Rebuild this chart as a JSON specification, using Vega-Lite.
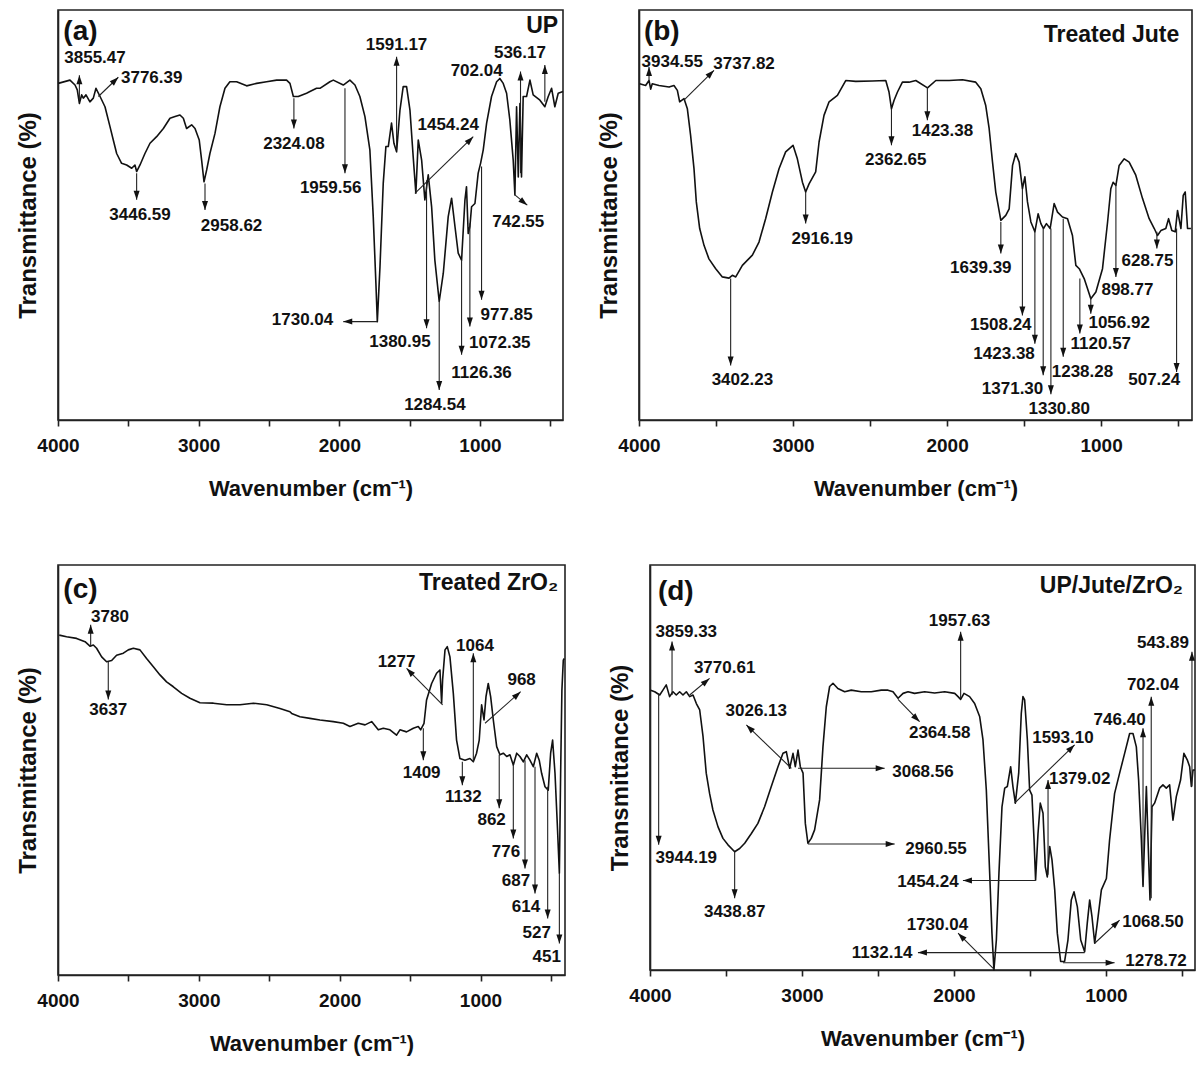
{
"$schema": "https://vega.github.io/schema/vega-lite/v6.json",
"padding": {"left": 15, "top": 9, "right": 5, "bottom": 5},
"background": "white",
"config": {
 "font": "Liberation Sans",
 "text": {"font": "Liberation Sans"},
 "view": {"stroke": "#222", "strokeWidth": 1.6},
 "axis": {"grid": false, "domainColor": "#222", "domainWidth": 1.6, "tickColor": "#222", "tickWidth": 1.6, "labelFont": "Liberation Sans", "labelFontWeight": "bold", "labelFontSize": 19, "labelColor": "#111", "titleFont": "Liberation Sans", "titleFontWeight": "bold", "titleColor": "#111", "labelFlush": false, "labelOverlap": false},
 "axisX": {"tickSize": 6, "labelPadding": 10, "titleFontSize": 22, "titlePadding": 23},
 "axisY": {"titleFontSize": 24, "titlePadding": 18}
},
"datasets": {
 "specA": [{"w":3998,"t":82.1},{"w":3915,"t":82.9},{"w":3879,"t":81.7},{"w":3863,"t":80.5},{"w":3848,"t":77.2},{"w":3832,"t":79.3},{"w":3820,"t":78.5},{"w":3801,"t":79.3},{"w":3773,"t":77.6},{"w":3749,"t":78.5},{"w":3730,"t":80.9},{"w":3701,"t":78.9},{"w":3666,"t":76.4},{"w":3630,"t":71.5},{"w":3607,"t":68.3},{"w":3583,"t":65.0},{"w":3548,"t":62.6},{"w":3512,"t":62.2},{"w":3476,"t":61.4},{"w":3453,"t":62.2},{"w":3441,"t":60.6},{"w":3417,"t":62.2},{"w":3382,"t":65.0},{"w":3346,"t":67.5},{"w":3299,"t":69.1},{"w":3251,"t":71.1},{"w":3204,"t":73.6},{"w":3168,"t":74.0},{"w":3133,"t":74.4},{"w":3109,"t":73.6},{"w":3086,"t":71.1},{"w":3050,"t":72.0},{"w":3026,"t":71.1},{"w":2996,"t":68.3},{"w":2979,"t":63.4},{"w":2962,"t":58.1},{"w":2943,"t":61.0},{"w":2920,"t":65.0},{"w":2884,"t":69.9},{"w":2849,"t":76.4},{"w":2813,"t":80.9},{"w":2778,"t":82.5},{"w":2730,"t":82.5},{"w":2659,"t":81.5},{"w":2588,"t":82.1},{"w":2517,"t":82.5},{"w":2446,"t":82.9},{"w":2375,"t":82.9},{"w":2351,"t":82.1},{"w":2327,"t":78.9},{"w":2292,"t":78.9},{"w":2233,"t":79.7},{"w":2209,"t":80.1},{"w":2162,"t":80.9},{"w":2138,"t":80.9},{"w":2067,"t":82.5},{"w":2043,"t":82.9},{"w":1972,"t":81.7},{"w":1925,"t":82.9},{"w":1889,"t":81.7},{"w":1854,"t":78.9},{"w":1818,"t":74.0},{"w":1783,"t":65.9},{"w":1759,"t":49.6},{"w":1740,"t":33.3},{"w":1730,"t":24.0},{"w":1711,"t":37.4},{"w":1688,"t":57.7},{"w":1669,"t":66.7},{"w":1652,"t":66.7},{"w":1629,"t":72.4},{"w":1612,"t":67.5},{"w":1593,"t":65.4},{"w":1569,"t":75.6},{"w":1546,"t":81.3},{"w":1522,"t":81.3},{"w":1498,"t":75.6},{"w":1475,"t":64.2},{"w":1456,"t":55.3},{"w":1439,"t":68.3},{"w":1415,"t":63.4},{"w":1392,"t":53.7},{"w":1368,"t":59.8},{"w":1344,"t":52.0},{"w":1321,"t":39.0},{"w":1290,"t":28.9},{"w":1261,"t":35.8},{"w":1226,"t":49.6},{"w":1202,"t":54.1},{"w":1178,"t":47.2},{"w":1155,"t":40.7},{"w":1131,"t":39.0},{"w":1107,"t":53.7},{"w":1096,"t":56.9},{"w":1084,"t":45.5},{"w":1072,"t":47.2},{"w":1060,"t":52.0},{"w":1036,"t":52.8},{"w":1013,"t":60.2},{"w":996,"t":62.6},{"w":977,"t":65.9},{"w":953,"t":72.4},{"w":918,"t":78.9},{"w":882,"t":82.5},{"w":859,"t":83.3},{"w":835,"t":82.1},{"w":811,"t":79.7},{"w":788,"t":73.2},{"w":764,"t":63.4},{"w":752,"t":54.9},{"w":740,"t":76.4},{"w":728,"t":59.3},{"w":716,"t":77.2},{"w":705,"t":59.3},{"w":693,"t":78.9},{"w":669,"t":78.9},{"w":645,"t":82.9},{"w":622,"t":79.3},{"w":574,"t":78.0},{"w":539,"t":76.4},{"w":515,"t":78.9},{"w":491,"t":80.9},{"w":468,"t":76.4},{"w":444,"t":79.7},{"w":410,"t":80.1}],
 "specB": [{"w":3996,"t":82.0},{"w":3957,"t":81.6},{"w":3935,"t":82.8},{"w":3924,"t":80.7},{"w":3914,"t":82.0},{"w":3870,"t":81.6},{"w":3805,"t":81.2},{"w":3773,"t":81.6},{"w":3751,"t":80.4},{"w":3736,"t":77.6},{"w":3708,"t":78.4},{"w":3686,"t":75.9},{"w":3665,"t":69.4},{"w":3643,"t":61.3},{"w":3628,"t":53.2},{"w":3606,"t":46.7},{"w":3578,"t":42.6},{"w":3546,"t":39.3},{"w":3502,"t":36.9},{"w":3459,"t":34.9},{"w":3416,"t":34.6},{"w":3394,"t":35.3},{"w":3372,"t":34.9},{"w":3329,"t":37.7},{"w":3264,"t":40.2},{"w":3221,"t":43.4},{"w":3178,"t":49.1},{"w":3134,"t":55.6},{"w":3091,"t":61.3},{"w":3048,"t":65.4},{"w":3000,"t":67.0},{"w":2972,"t":63.7},{"w":2939,"t":58.0},{"w":2918,"t":55.6},{"w":2896,"t":57.6},{"w":2853,"t":60.5},{"w":2831,"t":67.8},{"w":2799,"t":74.3},{"w":2766,"t":77.6},{"w":2712,"t":79.2},{"w":2658,"t":82.8},{"w":2593,"t":82.6},{"w":2485,"t":82.7},{"w":2398,"t":82.8},{"w":2377,"t":80.0},{"w":2361,"t":75.9},{"w":2344,"t":78.0},{"w":2322,"t":80.0},{"w":2290,"t":82.4},{"w":2247,"t":82.4},{"w":2203,"t":82.8},{"w":2127,"t":81.0},{"w":2073,"t":82.8},{"w":1987,"t":82.8},{"w":1900,"t":83.0},{"w":1814,"t":82.4},{"w":1781,"t":80.8},{"w":1749,"t":76.7},{"w":1727,"t":71.1},{"w":1705,"t":62.9},{"w":1684,"t":55.6},{"w":1651,"t":48.7},{"w":1619,"t":49.9},{"w":1597,"t":51.5},{"w":1575,"t":62.1},{"w":1554,"t":65.0},{"w":1532,"t":62.9},{"w":1511,"t":56.4},{"w":1495,"t":59.3},{"w":1478,"t":53.2},{"w":1456,"t":48.3},{"w":1430,"t":45.9},{"w":1409,"t":50.3},{"w":1391,"t":47.9},{"w":1374,"t":46.7},{"w":1355,"t":47.9},{"w":1331,"t":46.7},{"w":1305,"t":52.8},{"w":1283,"t":50.7},{"w":1251,"t":49.5},{"w":1218,"t":49.1},{"w":1186,"t":45.0},{"w":1164,"t":37.7},{"w":1142,"t":36.9},{"w":1110,"t":34.5},{"w":1088,"t":32.0},{"w":1067,"t":29.6},{"w":1034,"t":31.2},{"w":991,"t":36.9},{"w":958,"t":48.3},{"w":937,"t":56.4},{"w":922,"t":58.0},{"w":904,"t":57.2},{"w":883,"t":62.1},{"w":850,"t":63.7},{"w":818,"t":62.9},{"w":775,"t":59.7},{"w":731,"t":54.0},{"w":688,"t":49.1},{"w":655,"t":46.7},{"w":634,"t":45.0},{"w":612,"t":46.2},{"w":580,"t":46.7},{"w":562,"t":49.1},{"w":541,"t":46.2},{"w":519,"t":45.9},{"w":504,"t":51.1},{"w":482,"t":46.7},{"w":467,"t":54.8},{"w":454,"t":55.6},{"w":439,"t":46.7},{"w":417,"t":46.7}],
 "specC": [{"w":3991,"t":82.9},{"w":3939,"t":82.5},{"w":3868,"t":82.1},{"w":3808,"t":81.3},{"w":3773,"t":80.2},{"w":3749,"t":80.5},{"w":3726,"t":79.7},{"w":3690,"t":77.6},{"w":3655,"t":76.4},{"w":3619,"t":76.7},{"w":3584,"t":78.0},{"w":3536,"t":78.5},{"w":3501,"t":79.3},{"w":3465,"t":79.7},{"w":3418,"t":79.3},{"w":3371,"t":77.2},{"w":3323,"t":75.2},{"w":3276,"t":73.2},{"w":3229,"t":71.5},{"w":3181,"t":70.3},{"w":3122,"t":68.7},{"w":3063,"t":67.5},{"w":2992,"t":66.4},{"w":2897,"t":66.3},{"w":2802,"t":65.9},{"w":2708,"t":65.9},{"w":2613,"t":66.3},{"w":2518,"t":65.9},{"w":2424,"t":65.0},{"w":2353,"t":64.2},{"w":2341,"t":63.8},{"w":2282,"t":63.0},{"w":2211,"t":62.6},{"w":2140,"t":62.2},{"w":2045,"t":61.8},{"w":1974,"t":61.4},{"w":1927,"t":60.6},{"w":1868,"t":61.4},{"w":1820,"t":61.0},{"w":1773,"t":61.8},{"w":1726,"t":59.8},{"w":1690,"t":60.2},{"w":1643,"t":59.8},{"w":1596,"t":58.5},{"w":1572,"t":59.8},{"w":1525,"t":59.3},{"w":1477,"t":60.2},{"w":1442,"t":60.6},{"w":1425,"t":59.8},{"w":1401,"t":61.4},{"w":1383,"t":67.1},{"w":1347,"t":71.1},{"w":1312,"t":73.6},{"w":1288,"t":74.4},{"w":1276,"t":66.3},{"w":1269,"t":72.0},{"w":1252,"t":79.3},{"w":1236,"t":80.1},{"w":1217,"t":77.6},{"w":1193,"t":68.7},{"w":1170,"t":57.3},{"w":1146,"t":52.8},{"w":1110,"t":52.4},{"w":1075,"t":52.8},{"w":1051,"t":52.0},{"w":1028,"t":54.1},{"w":1009,"t":57.3},{"w":992,"t":65.9},{"w":975,"t":62.2},{"w":961,"t":67.9},{"w":945,"t":71.1},{"w":928,"t":67.9},{"w":909,"t":62.2},{"w":885,"t":55.7},{"w":862,"t":53.7},{"w":838,"t":54.1},{"w":814,"t":53.3},{"w":791,"t":53.7},{"w":767,"t":51.2},{"w":743,"t":54.1},{"w":720,"t":53.3},{"w":696,"t":52.0},{"w":672,"t":53.7},{"w":649,"t":52.4},{"w":625,"t":50.8},{"w":601,"t":54.1},{"w":583,"t":52.4},{"w":566,"t":49.2},{"w":542,"t":45.9},{"w":519,"t":45.1},{"w":502,"t":54.1},{"w":488,"t":57.3},{"w":471,"t":49.2},{"w":455,"t":37.0},{"w":440,"t":24.8},{"w":431,"t":49.2},{"w":422,"t":69.5},{"w":412,"t":76.8},{"w":405,"t":77.2}],
 "specD": [{"w":3996,"t":69.1},{"w":3969,"t":68.7},{"w":3936,"t":67.9},{"w":3915,"t":69.1},{"w":3893,"t":70.4},{"w":3871,"t":67.5},{"w":3849,"t":68.7},{"w":3827,"t":67.9},{"w":3805,"t":68.7},{"w":3783,"t":67.9},{"w":3761,"t":68.7},{"w":3739,"t":67.5},{"w":3717,"t":67.9},{"w":3695,"t":65.8},{"w":3673,"t":64.2},{"w":3651,"t":57.6},{"w":3630,"t":48.6},{"w":3608,"t":43.6},{"w":3586,"t":39.5},{"w":3553,"t":35.4},{"w":3520,"t":32.5},{"w":3487,"t":30.9},{"w":3443,"t":29.2},{"w":3410,"t":30.0},{"w":3377,"t":31.3},{"w":3333,"t":33.7},{"w":3290,"t":36.2},{"w":3246,"t":40.3},{"w":3202,"t":45.3},{"w":3158,"t":50.2},{"w":3125,"t":53.5},{"w":3103,"t":53.9},{"w":3081,"t":49.8},{"w":3059,"t":53.5},{"w":3044,"t":50.2},{"w":3026,"t":54.3},{"w":3011,"t":50.2},{"w":2993,"t":48.6},{"w":2978,"t":36.2},{"w":2961,"t":31.3},{"w":2939,"t":32.5},{"w":2917,"t":34.6},{"w":2884,"t":42.0},{"w":2862,"t":55.1},{"w":2840,"t":65.0},{"w":2818,"t":70.0},{"w":2796,"t":70.8},{"w":2764,"t":69.5},{"w":2719,"t":68.7},{"w":2676,"t":69.1},{"w":2610,"t":68.7},{"w":2544,"t":68.7},{"w":2478,"t":69.1},{"w":2434,"t":69.1},{"w":2401,"t":68.7},{"w":2368,"t":67.1},{"w":2335,"t":68.3},{"w":2302,"t":68.7},{"w":2259,"t":68.3},{"w":2193,"t":68.7},{"w":2127,"t":68.4},{"w":2061,"t":68.7},{"w":1995,"t":68.3},{"w":1973,"t":67.5},{"w":1956,"t":66.8},{"w":1934,"t":68.3},{"w":1897,"t":67.5},{"w":1864,"t":65.8},{"w":1831,"t":62.6},{"w":1809,"t":56.8},{"w":1787,"t":44.4},{"w":1765,"t":23.9},{"w":1750,"t":9.1},{"w":1737,"t":0.0},{"w":1721,"t":7.4},{"w":1704,"t":23.9},{"w":1684,"t":40.3},{"w":1666,"t":44.9},{"w":1649,"t":45.3},{"w":1627,"t":50.2},{"w":1612,"t":45.3},{"w":1596,"t":41.2},{"w":1574,"t":48.6},{"w":1557,"t":63.4},{"w":1546,"t":67.5},{"w":1535,"t":66.7},{"w":1517,"t":56.8},{"w":1502,"t":44.4},{"w":1487,"t":43.2},{"w":1473,"t":32.1},{"w":1463,"t":22.2},{"w":1447,"t":33.7},{"w":1432,"t":41.2},{"w":1414,"t":38.7},{"w":1399,"t":25.5},{"w":1386,"t":23.0},{"w":1370,"t":30.5},{"w":1355,"t":27.2},{"w":1337,"t":19.8},{"w":1320,"t":9.1},{"w":1298,"t":2.1},{"w":1272,"t":2.1},{"w":1250,"t":7.4},{"w":1228,"t":17.3},{"w":1210,"t":19.3},{"w":1188,"t":15.6},{"w":1166,"t":7.4},{"w":1140,"t":4.5},{"w":1123,"t":11.5},{"w":1107,"t":17.3},{"w":1092,"t":13.2},{"w":1074,"t":6.6},{"w":1057,"t":11.5},{"w":1030,"t":19.8},{"w":997,"t":22.6},{"w":976,"t":32.1},{"w":943,"t":43.6},{"w":910,"t":48.6},{"w":877,"t":53.5},{"w":844,"t":58.4},{"w":822,"t":58.4},{"w":800,"t":55.1},{"w":785,"t":46.9},{"w":767,"t":32.1},{"w":756,"t":20.6},{"w":746,"t":32.1},{"w":734,"t":45.3},{"w":723,"t":32.1},{"w":710,"t":17.3},{"w":697,"t":40.3},{"w":680,"t":41.2},{"w":647,"t":44.9},{"w":625,"t":45.7},{"w":603,"t":44.9},{"w":581,"t":45.7},{"w":559,"t":37.0},{"w":537,"t":42.8},{"w":509,"t":46.9},{"w":487,"t":53.5},{"w":465,"t":51.9},{"w":449,"t":50.2},{"w":438,"t":45.3},{"w":427,"t":49.4},{"w":414,"t":49.4}],
 "arrows": [
  {"p":"a","w":3848,"t":78.0,"w2":3848,"t2":84.1,"dir":0},
  {"p":"a","w":3713,"t":78.9,"w2":3571,"t2":83.6,"dir":46},
  {"p":"a","w":3441,"t":60.2,"w2":3441,"t2":53.7,"dir":180},
  {"p":"a","w":2955,"t":57.7,"w2":2955,"t2":51.2,"dir":180},
  {"p":"a","w":2323,"t":78.5,"w2":2323,"t2":71.1,"dir":180},
  {"p":"a","w":1960,"t":80.9,"w2":1960,"t2":60.2,"dir":180},
  {"p":"a","w":1730,"t":24.0,"w2":1972,"t2":24.0,"dir":270},
  {"p":"a","w":1593,"t":65.9,"w2":1593,"t2":88.6,"dir":0},
  {"p":"a","w":1463,"t":55.3,"w2":1048,"t2":69.1,"dir":45},
  {"p":"a","w":1380,"t":58.5,"w2":1380,"t2":22.4,"dir":180},
  {"p":"a","w":1290,"t":28.9,"w2":1290,"t2":7.3,"dir":180},
  {"p":"a","w":1131,"t":39.0,"w2":1131,"t2":15.9,"dir":180},
  {"p":"a","w":1072,"t":48.0,"w2":1072,"t2":22.8,"dir":180},
  {"p":"a","w":989,"t":61.8,"w2":989,"t2":29.3,"dir":180},
  {"p":"a","w":752,"t":54.9,"w2":664,"t2":52.4,"dir":129},
  {"p":"a","w":712,"t":60.2,"w2":712,"t2":85.0,"dir":0},
  {"p":"a","w":539,"t":77.6,"w2":539,"t2":86.6,"dir":0},
  {"p":"b","w":3935,"t":82.9,"w2":3935,"t2":86.1,"dir":0},
  {"p":"b","w":3708,"t":78.0,"w2":3513,"t2":85.3,"dir":45},
  {"p":"b","w":3405,"t":34.5,"w2":3405,"t2":13.3,"dir":180},
  {"p":"b","w":2918,"t":55.6,"w2":2918,"t2":47.9,"dir":180},
  {"p":"b","w":2361,"t":75.9,"w2":2361,"t2":67.0,"dir":180},
  {"p":"b","w":2128,"t":81.2,"w2":2128,"t2":73.1,"dir":180},
  {"p":"b","w":1651,"t":48.3,"w2":1651,"t2":40.6,"dir":180},
  {"p":"b","w":1511,"t":56.4,"w2":1511,"t2":25.5,"dir":180},
  {"p":"b","w":1430,"t":45.9,"w2":1430,"t2":18.6,"dir":180},
  {"p":"b","w":1376,"t":46.7,"w2":1376,"t2":10.9,"dir":180},
  {"p":"b","w":1326,"t":46.7,"w2":1326,"t2":6.3,"dir":180},
  {"p":"b","w":1246,"t":49.1,"w2":1246,"t2":15.4,"dir":180},
  {"p":"b","w":1138,"t":34.5,"w2":1138,"t2":21.1,"dir":180},
  {"p":"b","w":1067,"t":30.0,"w2":1067,"t2":25.9,"dir":180},
  {"p":"b","w":904,"t":57.6,"w2":904,"t2":34.9,"dir":180},
  {"p":"b","w":638,"t":45.9,"w2":638,"t2":41.8,"dir":180},
  {"p":"b","w":510,"t":46.7,"w2":510,"t2":11.7,"dir":180},
  {"p":"c","w":3768,"t":80.1,"w2":3768,"t2":85.4,"dir":0},
  {"p":"c","w":3643,"t":76.4,"w2":3643,"t2":67.2,"dir":180},
  {"p":"c","w":1269,"t":65.9,"w2":1525,"t2":74.8,"dir":316},
  {"p":"c","w":1406,"t":60.2,"w2":1406,"t2":52.4,"dir":180},
  {"p":"c","w":1051,"t":52.0,"w2":1051,"t2":78.5,"dir":0},
  {"p":"c","w":968,"t":61.4,"w2":715,"t2":69.1,"dir":48},
  {"p":"c","w":1129,"t":52.0,"w2":1129,"t2":46.3,"dir":180},
  {"p":"c","w":867,"t":53.7,"w2":867,"t2":40.7,"dir":180},
  {"p":"c","w":767,"t":51.2,"w2":767,"t2":33.3,"dir":180},
  {"p":"c","w":684,"t":52.4,"w2":684,"t2":26.0,"dir":180},
  {"p":"c","w":613,"t":50.8,"w2":613,"t2":19.9,"dir":180},
  {"p":"c","w":523,"t":45.9,"w2":523,"t2":13.8,"dir":180},
  {"p":"c","w":440,"t":24.8,"w2":440,"t2":7.7,"dir":180},
  {"p":"d","w":3855,"t":67.9,"w2":3855,"t2":81.1,"dir":0},
  {"p":"d","w":3943,"t":68.3,"w2":3943,"t2":30.9,"dir":180},
  {"p":"d","w":3739,"t":67.9,"w2":3608,"t2":72.0,"dir":50},
  {"p":"d","w":3443,"t":29.2,"w2":3443,"t2":17.7,"dir":180},
  {"p":"d","w":3070,"t":49.8,"w2":3366,"t2":60.5,"dir":314},
  {"p":"d","w":3026,"t":49.8,"w2":2456,"t2":49.8,"dir":90},
  {"p":"d","w":2961,"t":31.1,"w2":2390,"t2":31.1,"dir":90},
  {"p":"d","w":2368,"t":66.8,"w2":2226,"t2":61.3,"dir":135},
  {"p":"d","w":1956,"t":67.1,"w2":1956,"t2":83.5,"dir":0},
  {"p":"d","w":1601,"t":41.2,"w2":1206,"t2":55.6,"dir":46},
  {"p":"d","w":1381,"t":23.5,"w2":1381,"t2":46.9,"dir":0},
  {"p":"d","w":1465,"t":22.1,"w2":1941,"t2":22.1,"dir":270},
  {"p":"d","w":1737,"t":0.2,"w2":1973,"t2":9.1,"dir":315},
  {"p":"d","w":1140,"t":4.3,"w2":2237,"t2":4.3,"dir":270},
  {"p":"d","w":1283,"t":1.8,"w2":943,"t2":1.8,"dir":90},
  {"p":"d","w":1074,"t":6.6,"w2":910,"t2":12.3,"dir":47},
  {"p":"d","w":756,"t":21.0,"w2":756,"t2":59.7,"dir":0},
  {"p":"d","w":702,"t":17.7,"w2":702,"t2":67.5,"dir":0},
  {"p":"d","w":434,"t":45.3,"w2":434,"t2":78.6,"dir":0}
 ],
 "labels": [
  {"p":"a","text":"3855.47","w":3737,"t":88.2},
  {"p":"a","text":"3776.39","w":3334,"t":83.3},
  {"p":"a","text":"3446.59","w":3417,"t":50.0},
  {"p":"a","text":"2958.62","w":2766,"t":47.3},
  {"p":"a","text":"2324.08","w":2323,"t":67.3},
  {"p":"a","text":"1959.56","w":2062,"t":56.5},
  {"p":"a","text":"1730.04","w":2262,"t":24.4},
  {"p":"a","text":"1591.17","w":1593,"t":91.5},
  {"p":"a","text":"1454.24","w":1226,"t":72.0},
  {"p":"a","text":"1380.95","w":1569,"t":19.1},
  {"p":"a","text":"1284.54","w":1321,"t":3.7},
  {"p":"a","text":"1126.36","w":989,"t":11.4},
  {"p":"a","text":"1072.35","w":859,"t":18.9},
  {"p":"a","text":"977.85","w":811,"t":25.6},
  {"p":"a","text":"742.55","w":728,"t":48.4},
  {"p":"a","text":"702.04","w":1024,"t":85.1},
  {"p":"a","text":"536.17","w":716,"t":89.4},
  {"p":"b","text":"3934.55","w":3784,"t":87.3},
  {"p":"b","text":"3737.82","w":3318,"t":86.9},
  {"p":"b","text":"3402.23","w":3329,"t":9.7},
  {"p":"b","text":"2916.19","w":2810,"t":44.2},
  {"p":"b","text":"2362.65","w":2333,"t":63.3},
  {"p":"b","text":"1423.38","w":2030,"t":70.4},
  {"p":"b","text":"1639.39","w":1781,"t":37.1},
  {"p":"b","text":"1508.24","w":1651,"t":23.1},
  {"p":"b","text":"1423.38","w":1630,"t":16.2},
  {"p":"b","text":"1371.30","w":1575,"t":7.6},
  {"p":"b","text":"1330.80","w":1272,"t":2.8},
  {"p":"b","text":"1238.28","w":1121,"t":11.7},
  {"p":"b","text":"1120.57","w":1002,"t":18.6},
  {"p":"b","text":"1056.92","w":883,"t":23.7},
  {"p":"b","text":"898.77","w":829,"t":31.6},
  {"p":"b","text":"628.75","w":699,"t":38.7},
  {"p":"b","text":"507.24","w":655,"t":9.7},
  {"p":"c","text":"3780","w":3631,"t":87.2},
  {"p":"c","text":"3637","w":3643,"t":64.6},
  {"p":"c","text":"1277","w":1596,"t":76.4},
  {"p":"c","text":"1409","w":1418,"t":49.2},
  {"p":"c","text":"1064","w":1039,"t":80.2},
  {"p":"c","text":"968","w":708,"t":72.0},
  {"p":"c","text":"1132","w":1122,"t":43.5},
  {"p":"c","text":"862","w":921,"t":37.8},
  {"p":"c","text":"776","w":819,"t":30.1},
  {"p":"c","text":"687","w":748,"t":23.0},
  {"p":"c","text":"614","w":677,"t":16.7},
  {"p":"c","text":"527","w":601,"t":10.3},
  {"p":"c","text":"451","w":530,"t":4.5},
  {"p":"d","text":"3859.33","w":3761,"t":83.5},
  {"p":"d","text":"3944.19","w":3761,"t":27.6},
  {"p":"d","text":"3770.61","w":3509,"t":74.5},
  {"p":"d","text":"3438.87","w":3443,"t":14.2},
  {"p":"d","text":"3026.13","w":3301,"t":64.0},
  {"p":"d","text":"3068.56","w":2204,"t":48.8},
  {"p":"d","text":"2960.55","w":2118,"t":29.8},
  {"p":"d","text":"2364.58","w":2094,"t":58.4},
  {"p":"d","text":"1957.63","w":1963,"t":86.2},
  {"p":"d","text":"1593.10","w":1283,"t":57.2},
  {"p":"d","text":"1379.02","w":1173,"t":47.1},
  {"p":"d","text":"1454.24","w":2171,"t":21.8},
  {"p":"d","text":"1730.04","w":2109,"t":11.1},
  {"p":"d","text":"1132.14","w":2473,"t":4.1},
  {"p":"d","text":"1278.72","w":670,"t":2.1},
  {"p":"d","text":"1068.50","w":691,"t":11.9},
  {"p":"d","text":"746.40","w":910,"t":61.7},
  {"p":"d","text":"702.04","w":691,"t":70.4},
  {"p":"d","text":"543.89","w":625,"t":80.7}
 ],
 "tags": [
  {"p":"a","k":"letter","text":"(a)","w":3962,"t":94.7},
  {"p":"a","k":"name","text":"UP","w":444,"t":96.0},
  {"p":"b","k":"letter","text":"(b)","w":3968,"t":94.6},
  {"p":"b","k":"name","text":"Treated Jute","w":493,"t":93.8},
  {"p":"c","k":"letter","text":"(c)","w":3962,"t":93.9},
  {"p":"c","k":"name","text":"Treated ZrO₂","w":448,"t":95.5},
  {"p":"d","k":"letter","text":"(d)","w":3948,"t":93.4},
  {"p":"d","k":"name","text":"UP/Jute/ZrO₂","w":493,"t":94.7}
 ]
},
"vconcat": [
 {"hconcat": [
  {"width": 505, "height": 410, "layer": [
   {"data": {"name": "specA"}, "mark": {"type": "line", "color": "#111", "strokeWidth": 1.6, "strokeJoin": "round"},
    "encoding": {"x": {"field": "w", "type": "quantitative", "scale": {"domain": [4000, 410], "nice": false, "zero": false}, "axis": {"title": "Wavenumber (cm⁻¹)", "values": [4000,3500,3000,2500,2000,1500,1000,500], "labelExpr": "datum.value % 1000 === 0 ? format(datum.value, 'd') : ''"}},
     "y": {"field": "t", "type": "quantitative", "scale": {"domain": [0, 100], "nice": false, "zero": false}, "axis": {"title": "Transmittance (%)", "labels": false, "ticks": false}}}},
   {"data": {"name": "arrows"}, "transform": [{"filter": "datum.p === 'a'"}], "mark": {"type": "rule", "color": "#222", "strokeWidth": 1.1},
    "encoding": {"x": {"field": "w", "type": "quantitative"}, "y": {"field": "t", "type": "quantitative"}, "x2": {"field": "w2"}, "y2": {"field": "t2"}}},
   {"data": {"name": "arrows"}, "transform": [{"filter": "datum.p === 'a'"}], "mark": {"type": "point", "shape": "M0,0L-0.6,1.8L0.6,1.8Z", "filled": true, "size": 100, "color": "#111", "opacity": 1},
    "encoding": {"x": {"field": "w2", "type": "quantitative"}, "y": {"field": "t2", "type": "quantitative"}, "angle": {"field": "dir", "type": "quantitative", "scale": null}}},
   {"data": {"name": "labels"}, "transform": [{"filter": "datum.p === 'a'"}], "mark": {"type": "text", "fontWeight": "bold", "fontSize": 17, "color": "#111"},
    "encoding": {"x": {"field": "w", "type": "quantitative"}, "y": {"field": "t", "type": "quantitative"}, "text": {"field": "text"}}},
   {"data": {"name": "tags"}, "transform": [{"filter": "datum.p === 'a' && datum.k === 'letter'"}], "mark": {"type": "text", "fontWeight": "bold", "fontSize": 28, "align": "left", "color": "#111"},
    "encoding": {"x": {"field": "w", "type": "quantitative"}, "y": {"field": "t", "type": "quantitative"}, "text": {"field": "text"}}},
   {"data": {"name": "tags"}, "transform": [{"filter": "datum.p === 'a' && datum.k === 'name'"}], "mark": {"type": "text", "fontWeight": "bold", "fontSize": 23, "align": "right", "color": "#111"},
    "encoding": {"x": {"field": "w", "type": "quantitative"}, "y": {"field": "t", "type": "quantitative"}, "text": {"field": "text"}}}
  ]},
  {"width": 553, "height": 410, "layer": [
   {"data": {"name": "specB"}, "mark": {"type": "line", "color": "#111", "strokeWidth": 1.6, "strokeJoin": "round"},
    "encoding": {"x": {"field": "w", "type": "quantitative", "scale": {"domain": [4000, 410], "nice": false, "zero": false}, "axis": {"title": "Wavenumber (cm⁻¹)", "values": [4000,3500,3000,2500,2000,1500,1000,500], "labelExpr": "datum.value % 1000 === 0 ? format(datum.value, 'd') : ''"}},
     "y": {"field": "t", "type": "quantitative", "scale": {"domain": [0, 100], "nice": false, "zero": false}, "axis": {"title": "Transmittance (%)", "labels": false, "ticks": false}}}},
   {"data": {"name": "arrows"}, "transform": [{"filter": "datum.p === 'b'"}], "mark": {"type": "rule", "color": "#222", "strokeWidth": 1.1},
    "encoding": {"x": {"field": "w", "type": "quantitative"}, "y": {"field": "t", "type": "quantitative"}, "x2": {"field": "w2"}, "y2": {"field": "t2"}}},
   {"data": {"name": "arrows"}, "transform": [{"filter": "datum.p === 'b'"}], "mark": {"type": "point", "shape": "M0,0L-0.6,1.8L0.6,1.8Z", "filled": true, "size": 100, "color": "#111", "opacity": 1},
    "encoding": {"x": {"field": "w2", "type": "quantitative"}, "y": {"field": "t2", "type": "quantitative"}, "angle": {"field": "dir", "type": "quantitative", "scale": null}}},
   {"data": {"name": "labels"}, "transform": [{"filter": "datum.p === 'b'"}], "mark": {"type": "text", "fontWeight": "bold", "fontSize": 17, "color": "#111"},
    "encoding": {"x": {"field": "w", "type": "quantitative"}, "y": {"field": "t", "type": "quantitative"}, "text": {"field": "text"}}},
   {"data": {"name": "tags"}, "transform": [{"filter": "datum.p === 'b' && datum.k === 'letter'"}], "mark": {"type": "text", "fontWeight": "bold", "fontSize": 28, "align": "left", "color": "#111"},
    "encoding": {"x": {"field": "w", "type": "quantitative"}, "y": {"field": "t", "type": "quantitative"}, "text": {"field": "text"}}},
   {"data": {"name": "tags"}, "transform": [{"filter": "datum.p === 'b' && datum.k === 'name'"}], "mark": {"type": "text", "fontWeight": "bold", "fontSize": 23, "align": "right", "color": "#111"},
    "encoding": {"x": {"field": "w", "type": "quantitative"}, "y": {"field": "t", "type": "quantitative"}, "text": {"field": "text"}}}
  ]}
 ], "spacing": 31},
 {"hconcat": [
  {"width": 507, "height": 410, "layer": [
   {"data": {"name": "specC"}, "mark": {"type": "line", "color": "#111", "strokeWidth": 1.6, "strokeJoin": "round"},
    "encoding": {"x": {"field": "w", "type": "quantitative", "scale": {"domain": [4000, 400], "nice": false, "zero": false}, "axis": {"title": "Wavenumber (cm⁻¹)", "values": [4000,3500,3000,2500,2000,1500,1000,500], "labelExpr": "datum.value % 1000 === 0 ? format(datum.value, 'd') : ''"}},
     "y": {"field": "t", "type": "quantitative", "scale": {"domain": [0, 100], "nice": false, "zero": false}, "axis": {"title": "Transmittance (%)", "labels": false, "ticks": false}}}},
   {"data": {"name": "arrows"}, "transform": [{"filter": "datum.p === 'c'"}], "mark": {"type": "rule", "color": "#222", "strokeWidth": 1.1},
    "encoding": {"x": {"field": "w", "type": "quantitative"}, "y": {"field": "t", "type": "quantitative"}, "x2": {"field": "w2"}, "y2": {"field": "t2"}}},
   {"data": {"name": "arrows"}, "transform": [{"filter": "datum.p === 'c'"}], "mark": {"type": "point", "shape": "M0,0L-0.6,1.8L0.6,1.8Z", "filled": true, "size": 100, "color": "#111", "opacity": 1},
    "encoding": {"x": {"field": "w2", "type": "quantitative"}, "y": {"field": "t2", "type": "quantitative"}, "angle": {"field": "dir", "type": "quantitative", "scale": null}}},
   {"data": {"name": "labels"}, "transform": [{"filter": "datum.p === 'c'"}], "mark": {"type": "text", "fontWeight": "bold", "fontSize": 17, "color": "#111"},
    "encoding": {"x": {"field": "w", "type": "quantitative"}, "y": {"field": "t", "type": "quantitative"}, "text": {"field": "text"}}},
   {"data": {"name": "tags"}, "transform": [{"filter": "datum.p === 'c' && datum.k === 'letter'"}], "mark": {"type": "text", "fontWeight": "bold", "fontSize": 28, "align": "left", "color": "#111"},
    "encoding": {"x": {"field": "w", "type": "quantitative"}, "y": {"field": "t", "type": "quantitative"}, "text": {"field": "text"}}},
   {"data": {"name": "tags"}, "transform": [{"filter": "datum.p === 'c' && datum.k === 'name'"}], "mark": {"type": "text", "fontWeight": "bold", "fontSize": 23, "align": "right", "color": "#111"},
    "encoding": {"x": {"field": "w", "type": "quantitative"}, "y": {"field": "t", "type": "quantitative"}, "text": {"field": "text"}}}
  ]},
  {"width": 545, "height": 405, "layer": [
   {"data": {"name": "specD"}, "mark": {"type": "line", "color": "#111", "strokeWidth": 1.6, "strokeJoin": "round"},
    "encoding": {"x": {"field": "w", "type": "quantitative", "scale": {"domain": [4000, 414], "nice": false, "zero": false}, "axis": {"title": "Wavenumber (cm⁻¹)", "values": [4000,3500,3000,2500,2000,1500,1000,500], "labelExpr": "datum.value % 1000 === 0 ? format(datum.value, 'd') : ''"}},
     "y": {"field": "t", "type": "quantitative", "scale": {"domain": [0, 100], "nice": false, "zero": false}, "axis": {"title": "Transmittance (%)", "labels": false, "ticks": false}}}},
   {"data": {"name": "arrows"}, "transform": [{"filter": "datum.p === 'd'"}], "mark": {"type": "rule", "color": "#222", "strokeWidth": 1.1},
    "encoding": {"x": {"field": "w", "type": "quantitative"}, "y": {"field": "t", "type": "quantitative"}, "x2": {"field": "w2"}, "y2": {"field": "t2"}}},
   {"data": {"name": "arrows"}, "transform": [{"filter": "datum.p === 'd'"}], "mark": {"type": "point", "shape": "M0,0L-0.6,1.8L0.6,1.8Z", "filled": true, "size": 100, "color": "#111", "opacity": 1},
    "encoding": {"x": {"field": "w2", "type": "quantitative"}, "y": {"field": "t2", "type": "quantitative"}, "angle": {"field": "dir", "type": "quantitative", "scale": null}}},
   {"data": {"name": "labels"}, "transform": [{"filter": "datum.p === 'd'"}], "mark": {"type": "text", "fontWeight": "bold", "fontSize": 17, "color": "#111"},
    "encoding": {"x": {"field": "w", "type": "quantitative"}, "y": {"field": "t", "type": "quantitative"}, "text": {"field": "text"}}},
   {"data": {"name": "tags"}, "transform": [{"filter": "datum.p === 'd' && datum.k === 'letter'"}], "mark": {"type": "text", "fontWeight": "bold", "fontSize": 28, "align": "left", "color": "#111"},
    "encoding": {"x": {"field": "w", "type": "quantitative"}, "y": {"field": "t", "type": "quantitative"}, "text": {"field": "text"}}},
   {"data": {"name": "tags"}, "transform": [{"filter": "datum.p === 'd' && datum.k === 'name'"}], "mark": {"type": "text", "fontWeight": "bold", "fontSize": 23, "align": "right", "color": "#111"},
    "encoding": {"x": {"field": "w", "type": "quantitative"}, "y": {"field": "t", "type": "quantitative"}, "text": {"field": "text"}}}
  ]}
 ], "spacing": 41}
],
"spacing": 64
}
